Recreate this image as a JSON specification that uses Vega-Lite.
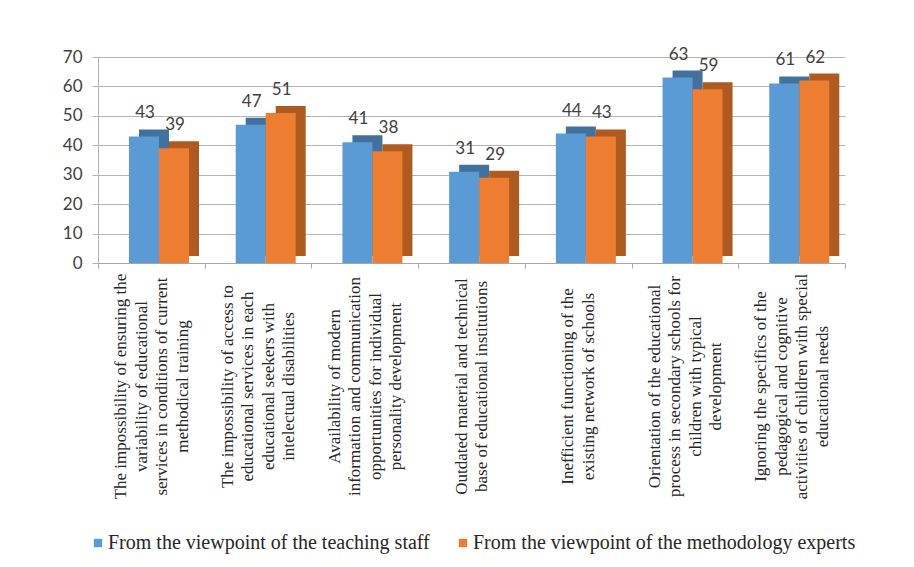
{
  "$schema": "https://vega.github.io/schema/vega-lite/v6.json",
  "width": 747,
  "height": 206,
  "autosize": {"type": "none"},
  "padding": {"left": 98, "top": 57, "right": 69, "bottom": 304},
  "background": "white",
  "config": {"view": {"stroke": null}, "font": "Lato"},
  "data": {
    "values": [
      {"factor": "The impossibility of ensuring the|variability of educational|services in conditions of current|methodical training", "series": "From the viewpoint of the teaching staff", "value": 43},
      {"factor": "The impossibility of ensuring the|variability of educational|services in conditions of current|methodical training", "series": "From the viewpoint of the methodology experts", "value": 39},
      {"factor": "The impossibility of access to|educational services in each|educational seekers with|intelectual disabilities", "series": "From the viewpoint of the teaching staff", "value": 47},
      {"factor": "The impossibility of access to|educational services in each|educational seekers with|intelectual disabilities", "series": "From the viewpoint of the methodology experts", "value": 51},
      {"factor": "Availability of modern|information and communication|opportunities for individual|personality development", "series": "From the viewpoint of the teaching staff", "value": 41},
      {"factor": "Availability of modern|information and communication|opportunities for individual|personality development", "series": "From the viewpoint of the methodology experts", "value": 38},
      {"factor": "Outdated material and technical|base of educational institutions", "series": "From the viewpoint of the teaching staff", "value": 31},
      {"factor": "Outdated material and technical|base of educational institutions", "series": "From the viewpoint of the methodology experts", "value": 29},
      {"factor": "Inefficient functioning of the|existing network of schools", "series": "From the viewpoint of the teaching staff", "value": 44},
      {"factor": "Inefficient functioning of the|existing network of schools", "series": "From the viewpoint of the methodology experts", "value": 43},
      {"factor": "Orientation of the educational|process in secondary schools for|children with typical|development", "series": "From the viewpoint of the teaching staff", "value": 63},
      {"factor": "Orientation of the educational|process in secondary schools for|children with typical|development", "series": "From the viewpoint of the methodology experts", "value": 59},
      {"factor": "Ignoring the specifics of the|pedagogical and cognitive|activities of children with special|educational needs", "series": "From the viewpoint of the teaching staff", "value": 61},
      {"factor": "Ignoring the specifics of the|pedagogical and cognitive|activities of children with special|educational needs", "series": "From the viewpoint of the methodology experts", "value": 62}
    ]
  },
  "encoding": {
    "x": {
      "field": "factor",
      "type": "nominal",
      "sort": null,
      "scale": {"paddingInner": 0, "paddingOuter": 0},
      "axis": {
        "title": null,
        "labelAngle": -90,
        "labelAlign": "center",
        "labelBaseline": "middle",
        "labelExpr": "split(datum.label, '|')",
        "labelFont": "Liberation Serif",
        "labelFontSize": 17,
        "labelLineHeight": 20.5,
        "labelColor": "#262626",
        "labelPadding": 118,
        "labelOffset": {
          "condition": {"test": "length(split(datum.value, '|')) == 2", "value": -10.25},
          "value": -30.75
        },
        "labelLimit": 0,
        "labelOverlap": false,
        "tickBand": "extent",
        "tickColor": "#a6a6a6",
        "tickSize": 5,
        "domainColor": "#a6a6a6"
      }
    },
    "y": {
      "field": "value",
      "type": "quantitative",
      "scale": {"domain": [0, 70]},
      "axis": {
        "title": null,
        "values": [0, 10, 20, 30, 40, 50, 60, 70],
        "labelFont": "Lato",
        "labelFontSize": 17,
        "labelColor": "#404040",
        "labelPadding": 10,
        "grid": true,
        "gridColor": "#b3b3b3",
        "domainColor": "#b3b3b3",
        "tickColor": "#b3b3b3",
        "tickSize": 6
      }
    }
  },
  "resolve": {"scale": {"xOffset": "independent"}},
  "layer": [
    {
      "mark": {"type": "bar", "yOffset": -7},
      "encoding": {
        "xOffset": {
          "field": "series",
          "type": "nominal",
          "sort": ["From the viewpoint of the teaching staff", "From the viewpoint of the methodology experts"],
          "scale": {"range": [41, 101]}
        },
        "fill": {
          "condition": {"test": "datum.series == 'From the viewpoint of the teaching staff'", "value": "#41719C"},
          "value": "#AE5A21"
        }
      }
    },
    {
      "mark": {"type": "bar"},
      "encoding": {
        "xOffset": {
          "field": "series",
          "type": "nominal",
          "sort": ["From the viewpoint of the teaching staff", "From the viewpoint of the methodology experts"],
          "scale": {"range": [31, 91]}
        },
        "color": {
          "field": "series",
          "type": "nominal",
          "sort": ["From the viewpoint of the teaching staff", "From the viewpoint of the methodology experts"],
          "scale": {"domain": ["From the viewpoint of the teaching staff", "From the viewpoint of the methodology experts"], "range": ["#5B9BD5", "#ED7D31"]},
          "legend": {
            "title": null,
            "orient": "none",
            "direction": "horizontal",
            "legendX": -10,
            "legendY": 476,
            "symbolType": "square",
            "symbolSize": 70,
            "symbolStrokeWidth": 0,
            "labelFont": "Liberation Serif",
            "labelFontSize": 20,
            "labelColor": "#262626",
            "labelLimit": 0,
            "columnPadding": 23,
            "labelOffset": 0
          }
        }
      }
    },
    {
      "mark": {"type": "text", "font": "Lato", "fontSize": 17, "color": "#404040", "baseline": "alphabetic", "dy": -18, "dx": 1},
      "encoding": {
        "xOffset": {
          "field": "series",
          "type": "nominal",
          "sort": ["From the viewpoint of the teaching staff", "From the viewpoint of the methodology experts"],
          "scale": {"range": [31, 91]}
        },
        "text": {"field": "value", "type": "quantitative"}
      }
    }
  ]
}
